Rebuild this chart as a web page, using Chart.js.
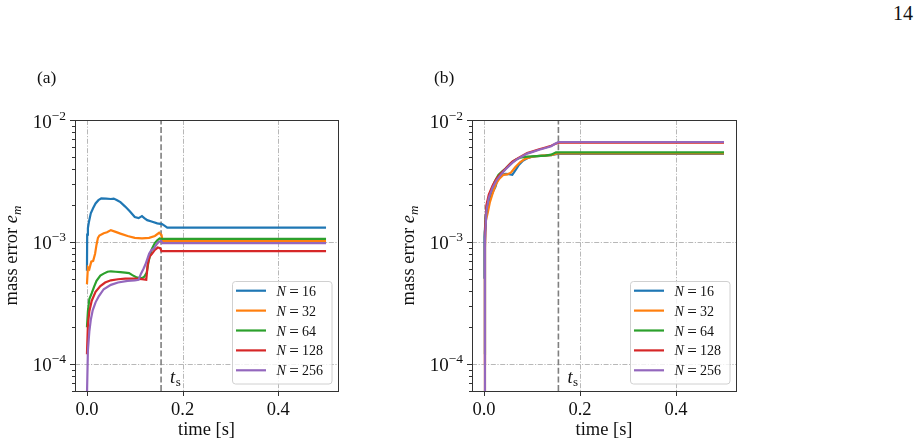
<!DOCTYPE html>
<html>
<head>
<meta charset="utf-8">
<script src="https://cdn.jsdelivr.net/npm/chart.js@4.4.1/dist/chart.umd.min.js"></script>
<style>
    html, body { margin: 0; padding: 0; background: #fff; }
    body { width: 920px; height: 446px; position: relative; overflow: hidden; font-family: "Liberation Serif", serif; }
    .panel { position: absolute; top: 0; }
    #pageNo { position: absolute; left: 893px; top: 3px; font-size: 20px; line-height: 20px; color: #111; }
</style>
</head>
<body>
<div id="pageNo">14</div>
<canvas id="chartA" class="panel" width="400" height="446" style="left:0"></canvas>
<canvas id="chartB" class="panel" width="400" height="446" style="left:400px"></canvas>

<script>
// --- series meta ---
const seriesLabels = ['16', '32', '64', '128', '256'];
const seriesColors = ['#1f77b4', '#ff7f0e', '#2ca02c', '#d62728', '#9467bd'];
const xTicks = [0, 0.2, 0.4];
const yMajorTicks = [1e-4, 1e-3, 1e-2];
const tSwitch = 0.155;

// --- panel (a): time [s] / mass error ---
const tA16 = [0, 0.0005, 0.002, 0.004, 0.008, 0.013, 0.018, 0.024, 0.03, 0.04, 0.05, 0.056, 0.063, 0.07, 0.08, 0.09, 0.1, 0.108, 0.115, 0.12, 0.126, 0.135, 0.147, 0.157, 0.162, 0.168, 0.5];
const eA16 = [5.8e-4, 1.15e-3, 1.3e-3, 1.45e-3, 1.72e-3, 1.9e-3, 2.07e-3, 2.2e-3, 2.28e-3, 2.27e-3, 2.25e-3, 2.27e-3, 2.2e-3, 2.12e-3, 1.95e-3, 1.78e-3, 1.6e-3, 1.57e-3, 1.63e-3, 1.57e-3, 1.51e-3, 1.47e-3, 1.42e-3, 1.4e-3, 1.36e-3, 1.31e-3, 1.31e-3];
const tA32 = [0, 0.002, 0.005, 0.009, 0.013, 0.017, 0.02, 0.023, 0.026, 0.035, 0.042, 0.05, 0.06, 0.07, 0.085, 0.1, 0.115, 0.13, 0.142, 0.151, 0.156, 0.158, 0.5];
const eA32 = [4.5e-4, 6.2e-4, 6.0e-4, 6.9e-4, 7.0e-4, 8.0e-4, 9.5e-4, 1.08e-3, 1.13e-3, 1.18e-3, 1.2e-3, 1.25e-3, 1.21e-3, 1.17e-3, 1.12e-3, 1.08e-3, 1.07e-3, 1.08e-3, 1.12e-3, 1.19e-3, 1.14e-3, 1.02e-3, 1.02e-3];
const tA64 = [0, 0.002, 0.005, 0.01, 0.015, 0.02, 0.028, 0.035, 0.043, 0.05, 0.06, 0.07, 0.08, 0.088, 0.095, 0.105, 0.115, 0.12, 0.125, 0.129, 0.136, 0.142, 0.147, 0.152, 0.156, 0.5];
const eA64 = [2.0e-4, 2.7e-4, 3.4e-4, 3.8e-4, 4.3e-4, 4.8e-4, 5.3e-4, 5.5e-4, 5.7e-4, 5.75e-4, 5.7e-4, 5.65e-4, 5.6e-4, 5.55e-4, 5.35e-4, 5.1e-4, 5.05e-4, 5.2e-4, 5.6e-4, 7.0e-4, 8.8e-4, 9.8e-4, 1.03e-3, 1.07e-3, 1.06e-3, 1.06e-3];
const tA128 = [0, 0.002, 0.005, 0.01, 0.018, 0.028, 0.038, 0.05, 0.065, 0.08, 0.1, 0.115, 0.124, 0.127, 0.131, 0.136, 0.142, 0.148, 0.153, 0.156, 0.5];
const eA128 = [1.2e-4, 2.1e-4, 2.7e-4, 3.3e-4, 3.9e-4, 4.35e-4, 4.65e-4, 4.85e-4, 4.95e-4, 5.0e-4, 5.0e-4, 4.95e-4, 4.9e-4, 6.5e-4, 7.6e-4, 8.0e-4, 8.6e-4, 9.0e-4, 8.9e-4, 8.4e-4, 8.4e-4];
const tA256 = [0, 0.002, 0.005, 0.008, 0.012, 0.018, 0.025, 0.035, 0.05, 0.065, 0.085, 0.1, 0.108, 0.113, 0.118, 0.122, 0.126, 0.13, 0.135, 0.14, 0.145, 0.15, 0.155, 0.158, 0.5];
const eA256 = [5.5e-5, 1.3e-4, 1.85e-4, 2.3e-4, 2.75e-4, 3.2e-4, 3.6e-4, 4.1e-4, 4.45e-4, 4.65e-4, 4.8e-4, 4.85e-4, 4.9e-4, 5.5e-4, 6.0e-4, 6.5e-4, 7.2e-4, 8.0e-4, 8.6e-4, 8.8e-4, 9.5e-4, 1.0e-3, 1.02e-3, 0.98e-3, 0.98e-3];

// --- panel (b) ---
const tB16 = [0, 0.001, 0.003, 0.005, 0.009, 0.014, 0.019, 0.024, 0.03, 0.037, 0.045, 0.052, 0.059, 0.066, 0.073, 0.08, 0.09, 0.1, 0.11, 0.125, 0.14, 0.15, 0.155, 0.5];
const eB16 = [5e-4, 1.1e-3, 1.5e-3, 1.82e-3, 2.0e-3, 2.35e-3, 2.6e-3, 2.85e-3, 3.45e-3, 3.55e-3, 3.62e-3, 3.6e-3, 3.55e-3, 3.9e-3, 4.3e-3, 4.6e-3, 4.85e-3, 5.0e-3, 5.05e-3, 5.1e-3, 5.15e-3, 5.25e-3, 5.27e-3, 5.27e-3];
const tB32 = [0, 0.002, 0.004, 0.008, 0.012, 0.018, 0.025, 0.032, 0.04, 0.048, 0.056, 0.065, 0.075, 0.085, 0.1, 0.12, 0.14, 0.152, 0.5];
const eB32 = [5.5e-5, 9e-4, 1.5e-3, 1.75e-3, 2.1e-3, 2.5e-3, 3.0e-3, 3.3e-3, 3.55e-3, 3.58e-3, 3.7e-3, 4.1e-3, 4.5e-3, 4.8e-3, 5.0e-3, 5.1e-3, 5.15e-3, 5.33e-3, 5.33e-3];
const tB64 = [0, 0.002, 0.005, 0.01, 0.016, 0.022, 0.03, 0.038, 0.045, 0.055, 0.065, 0.075, 0.09, 0.11, 0.128, 0.14, 0.15, 0.5];
const eB64 = [1.2e-4, 1.2e-3, 1.9e-3, 2.3e-3, 2.7e-3, 3.1e-3, 3.55e-3, 3.8e-3, 4.0e-3, 4.4e-3, 4.7e-3, 4.9e-3, 5.0e-3, 5.05e-3, 5.1e-3, 5.2e-3, 5.43e-3, 5.43e-3];
const tB128 = [0, 0.002, 0.005, 0.01, 0.018, 0.026, 0.035, 0.045, 0.059, 0.07, 0.08, 0.09, 0.1, 0.115, 0.128, 0.14, 0.148, 0.155, 0.5];
const eB128 = [1e-4, 1.2e-3, 2.0e-3, 2.45e-3, 2.9e-3, 3.3e-3, 3.65e-3, 4.0e-3, 4.55e-3, 4.85e-3, 5.1e-3, 5.35e-3, 5.5e-3, 5.75e-3, 5.95e-3, 6.15e-3, 6.35e-3, 6.52e-3, 6.52e-3];
const tB256 = [0, 0.002, 0.005, 0.01, 0.018, 0.026, 0.035, 0.045, 0.059, 0.07, 0.08, 0.09, 0.1, 0.115, 0.128, 0.14, 0.148, 0.155, 0.5];
const eB256 = [5.5e-5, 1.0e-3, 1.8e-3, 2.3e-3, 2.8e-3, 3.2e-3, 3.55e-3, 3.95e-3, 4.45e-3, 4.8e-3, 5.05e-3, 5.3e-3, 5.45e-3, 5.7e-3, 5.9e-3, 6.1e-3, 6.38e-3, 6.6e-3, 6.6e-3];

const SERIF = '"Liberation Serif", "Times New Roman", serif';

// minor ticks of the log axis (2..9 x each decade), majors from yMajorTicks
function logTicks(min, max) {
    const out = [];
    for (let d = -5; d <= -2; d++) {
        for (let m = 1; m <= 9; m++) {
            const v = m * Math.pow(10, d);
            if (v >= min * 0.999 && v <= max * 1.001) out.push({ value: v, major: m === 1 });
        }
    }
    return out;
}

function buildDatasets(pairs) {
    return pairs.map(([t, e], i) => ({
        label: 'N = ' + seriesLabels[i],
        data: t.map((v, k) => ({ x: v, y: e[k] })),
        borderColor: seriesColors[i],
        borderWidth: 2.2,
        pointRadius: 0,
        fill: false,
        tension: 0,
        order: pairs.length - i   // later series drawn on top, like matplotlib
    }));
}

function drawParts(ctx, parts, x, y) {
    // parts: [{t, f, dy}] drawn left to right from x on baseline y
    let cx = x;
    parts.forEach(p => {
        ctx.font = p.f;
        ctx.fillText(p.t, cx, y + (p.dy || 0));
        cx += ctx.measureText(p.t).width + (p.gap || 0);
    });
}
function partsWidth(ctx, parts) {
    let w = 0;
    parts.forEach(p => { ctx.font = p.f; w += ctx.measureText(p.t).width + (p.gap || 0); });
    return w;
}

// grid, spines, ticks, labels, legend (matplotlib look)
const panelDecor = {
    id: 'panelDecor',
    beforeDatasetsDraw(chart, args, opts) {
        const { ctx, chartArea: a, scales: { x, y } } = chart;
        ctx.save();
        ctx.strokeStyle = '#b0b0b0';
        ctx.lineWidth = 0.9;
        ctx.setLineDash([5, 1.6, 1.2, 1.6]);
        xTicks.forEach(v => {
            const px = Math.round(x.getPixelForValue(v)) + 0.5;
            ctx.beginPath(); ctx.moveTo(px, a.top); ctx.lineTo(px, a.bottom); ctx.stroke();
        });
        yMajorTicks.forEach(v => {
            const py = Math.round(y.getPixelForValue(v)) + 0.5;
            ctx.beginPath(); ctx.moveTo(a.left, py); ctx.lineTo(a.right, py); ctx.stroke();
        });
        // switching time
        const ts = x.getPixelForValue(tSwitch);
        ctx.strokeStyle = '#7f7f7f';
        ctx.lineWidth = 1.6;
        ctx.setLineDash([6, 2.6]);
        ctx.beginPath(); ctx.moveTo(ts, a.bottom); ctx.lineTo(ts, a.top); ctx.stroke();
        ctx.restore();
    },
    afterDatasetsDraw(chart, args, opts) {
        const { ctx, chartArea: a, scales: { x, y } } = chart;
        ctx.save();
        ctx.setLineDash([]);
        // spines
        ctx.strokeStyle = '#333';
        ctx.lineWidth = 1;
        ctx.strokeRect(Math.round(a.left) + 0.5, Math.round(a.top) + 0.5, Math.round(a.right - a.left), Math.round(a.bottom - a.top));
        // tick marks
        ctx.beginPath();
        y.ticks.forEach(t => {
            const py = Math.round(y.getPixelForValue(t.value)) + 0.5;
            const len = t.major ? 5 : 3;
            ctx.moveTo(a.left, py); ctx.lineTo(a.left - len, py);
        });
        xTicks.forEach(v => {
            const px = Math.round(x.getPixelForValue(v)) + 0.5;
            ctx.moveTo(px, a.bottom); ctx.lineTo(px, a.bottom + 5);
        });
        ctx.stroke();

        ctx.fillStyle = '#111';
        ctx.textBaseline = 'alphabetic';
        ctx.textAlign = 'left';
        // y tick labels 10^k
        yMajorTicks.forEach(v => {
            const py = y.getPixelForValue(v);
            const expo = '\u2212' + Math.round(-Math.log10(v));
            ctx.font = `13.5px ${SERIF}`;
            const ew = ctx.measureText(expo).width;
            ctx.font = `19px ${SERIF}`;
            const bw = ctx.measureText('10').width;
            const right = a.left - 9;
            ctx.fillText('10', right - ew - bw, py + 7.5);
            ctx.font = `13.5px ${SERIF}`;
            ctx.fillText(expo, right - ew, py - 0.5);
        });

        // x title
        ctx.font = `18.5px ${SERIF}`;
        ctx.textAlign = 'center';
        ctx.fillText('time [s]', (a.left + a.right) / 2, 435);
        ctx.textAlign = 'left';

        // y title, rotated
        ctx.save();
        ctx.translate(a.left - 58, (a.top + a.bottom) / 2);
        ctx.rotate(-Math.PI / 2);
        const yParts = [
            { t: 'mass error ', f: `18.5px ${SERIF}` },
            { t: 'e', f: `italic 18.5px ${SERIF}` },
            { t: 'm', f: `italic 13px ${SERIF}`, dy: 3.5 }
        ];
        drawParts(ctx, yParts, -partsWidth(ctx, yParts) / 2, 0);
        ctx.restore();

        // t_s label
        const tsx = x.getPixelForValue(tSwitch) + 9;
        const tsy = y.getPixelForValue(7e-5);
        drawParts(ctx, [
            { t: 't', f: `italic 18.5px ${SERIF}`, gap: 0.5 },
            { t: 's', f: `13px ${SERIF}`, dy: 3 }
        ], tsx, tsy);

        // panel tag
        ctx.font = `17.5px ${SERIF}`;
        ctx.fillText(opts.tag, a.left - 38, 82.5);

        // legend
        const bw = 99.5, bh = 102.5;
        const bx = a.right - 7 - bw, by = a.bottom - 7.5 - bh;
        ctx.fillStyle = 'rgba(255,255,255,0.8)';
        ctx.strokeStyle = '#d0d0d0';
        ctx.lineWidth = 1;
        ctx.beginPath();
        ctx.roundRect(Math.round(bx) + 0.5, Math.round(by) + 0.5, bw, bh, 3);
        ctx.fill(); ctx.stroke();
        const shown = chart.data.datasets;
        shown.forEach((ds, i) => {
            const cy = by + 9.7 + i * 19.9;
            ctx.strokeStyle = ds.borderColor;
            ctx.lineWidth = 2.2;
            ctx.beginPath(); ctx.moveTo(bx + 4.5, cy); ctx.lineTo(bx + 34.5, cy); ctx.stroke();
            ctx.fillStyle = '#111';
            const lx = bx + 45;
            ctx.font = `italic 14px ${SERIF}`;
            ctx.fillText('N', lx, cy + 5);
            ctx.font = `17px ${SERIF}`;
            ctx.textAlign = 'center';
            ctx.fillText('=', lx + 17.5, cy + 6);
            ctx.textAlign = 'left';
            ctx.font = `14px ${SERIF}`;
            ctx.fillText(seriesLabels[i], lx + 25.5, cy + 5);
        });
        ctx.restore();
    }
};

function makePanel(canvasId, pairs, tag, leftW, rightPad) {
    const ctx = document.getElementById(canvasId).getContext('2d');
    return new Chart(ctx, {
        type: 'line',
        data: { datasets: buildDatasets(pairs) },
        options: {
            responsive: false,
            animation: false,
            layout: { padding: { left: 0, top: 120, right: rightPad, bottom: 0 } },
            plugins: {
                legend: { display: false },
                tooltip: { enabled: false },
                panelDecor: { tag: tag }
            },
            scales: {
                x: {
                    type: 'linear',
                    min: -0.025,
                    max: 0.525,
                    afterBuildTicks: s => { s.ticks = xTicks.map(v => ({ value: v })); },
                    afterFit: s => { s.height = 55; },
                    grid: { display: false, drawTicks: false },
                    border: { display: false },
                    ticks: {
                        padding: 8,
                        color: '#111',
                        maxRotation: 0,
                        font: { family: SERIF, size: 18.5 },
                        callback: v => Number(v).toFixed(1)
                    }
                },
                y: {
                    type: 'logarithmic',
                    min: 6e-5,
                    max: 1e-2,
                    afterBuildTicks: s => { s.ticks = logTicks(6e-5, 1e-2); },
                    afterFit: s => { s.width = leftW; },
                    grid: { display: false, drawTicks: false },
                    border: { display: false },
                    ticks: { display: false }
                }
            }
        },
        plugins: [panelDecor]
    });
}

makePanel('chartA', [[tA16, eA16], [tA32, eA32], [tA64, eA64], [tA128, eA128], [tA256, eA256]], '(a)', 75, 62);
makePanel('chartB', [[tB16, eB16], [tB32, eB32], [tB64, eB64], [tB128, eB128], [tB256, eB256]], '(b)', 72, 64);
</script>
</body>
</html>
